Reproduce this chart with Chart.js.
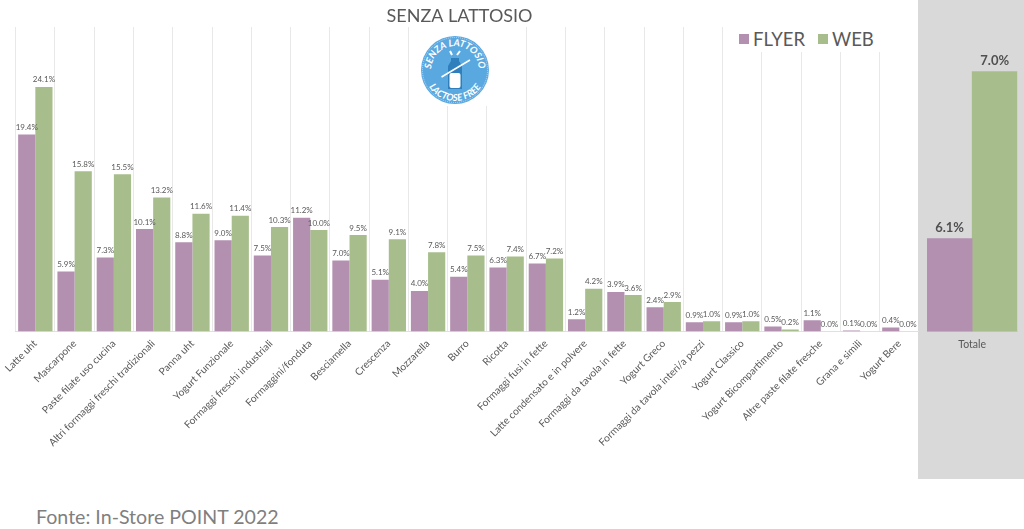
<!DOCTYPE html>
<html>
<head>
<meta charset="utf-8">
<style>
  html, body { margin: 0; padding: 0; background: #fff; }
  body { width: 1024px; height: 529px; position: relative; overflow: hidden; font-family: Lato, sans-serif; }
  #panel { position: absolute; left: 918px; top: 0; width: 106px; height: 479px; background: #d9d9d9; }
  #mainWrap { position: absolute; left: 0; top: 0; width: 919px; height: 480px; }
  #totalWrap { position: absolute; left: 918px; top: 0; width: 106px; height: 480px; }
  #legend { position: absolute; left: 724px; top: 27px; width: 161px; height: 25px; background: #fff; color: #595959; font-size: 18.5px; }
  #legend span { position: absolute; top: 0; line-height: 24px; }
  #legend i { position: absolute; top: 7px; width: 10px; height: 10px; }
  #logo { position: absolute; left: 420px; top: 27px; width: 70px; height: 79px; background: #fff; }
  #fonte { position: absolute; left: 36px; top: 505px; font-size: 19.6px; line-height: 24px; color: #7f7f7f; }
</style>
</head>
<body>
<div id="panel"></div>
<div id="mainWrap"><canvas id="mainChart"></canvas></div>
<div id="totalWrap"><canvas id="totalChart"></canvas></div>
<div id="legend"></div>
<svg id="logo" viewBox="420 27 70 79">
  <defs>
    <path id="arcTop" d="M 431 70 A 24 24 0 0 1 479 70"/>
    <path id="arcBottom" d="M 424 70 A 31 31 0 0 0 486 70"/>
  </defs>
  <circle cx="455" cy="70" r="34" fill="#5aa8e0"/>
  <circle cx="455" cy="70" r="32.5" fill="none" stroke="#fff" stroke-width="0.5" stroke-dasharray="1 1"/>
  <text font-family="Lato" font-size="9.5" font-weight="700" font-style="italic" fill="#fff"><textPath href="#arcTop" startOffset="50%" text-anchor="middle">SENZA LATTOSIO</textPath></text>
  <text font-family="Lato" font-size="9.5" font-weight="700" font-style="italic" fill="#fff"><textPath href="#arcBottom" startOffset="50%" text-anchor="middle">LACTOSE FREE</textPath></text>
  <path d="M451 58h8v3l3 5v23h-14v-23l3-5z" fill="#2f7fbd"/>
  <rect x="449.5" y="73" width="11" height="15" rx="2" fill="#fff"/>
  <path d="M452 55l-2-4M457 55l3-4" stroke="#fff" stroke-width="2"/>
  <line x1="441.5" y1="77" x2="470" y2="60" stroke="#fff" stroke-width="1.6"/>
</svg>
<div id="fonte">Fonte: In-Store POINT 2022</div>

<script src="https://cdn.jsdelivr.net/npm/chart.js@4"></script>
<script>
const categories = ['Latte uht','Mascarpone','Paste filate uso cucina','Altri formaggi freschi tradizionali','Panna uht','Yogurt Funzionale','Formaggi freschi industriali','Formaggini/fonduta','Besciamella','Crescenza','Mozzarella','Burro','Ricotta','Formaggi fusi in fette','Latte condensato e in polvere','Formaggi da tavola in fette','Yogurt Greco','Formaggi da tavola interi/a pezzi','Yogurt Classico','Yogurt Bicompartimento','Altre paste filate fresche','Grana e simili','Yogurt Bere']
const flyer = [19.4,5.9,7.3,10.1,8.8,9.0,7.5,11.2,7.0,5.1,4.0,5.4,6.3,6.7,1.2,3.9,2.4,0.9,0.9,0.5,1.1,0.1,0.4]
const web = [24.1,15.8,15.5,13.2,11.6,11.4,10.3,10.0,9.5,9.1,7.8,7.5,7.4,7.2,4.2,3.6,2.9,1.0,1.0,0.2,0.0,0.0,0.0]
const totalCategories = ['Totale']
const totalFlyer = [6.1]
const totalWeb = [7.0]

const purple = '#b38fb0'
const green = '#a7be8c'
const gray = '#595959'
const baseline = 331.5

// value labels over the bars, no datalabels plugin available
const barLabels = {
  id: 'barLabels',
  afterDatasetsDraw(chart, args, opts) {
    const c = chart.ctx
    c.save()
    c.font = opts.font
    c.fillStyle = opts.color
    c.textAlign = 'center'
    c.textBaseline = 'bottom'
    chart.data.datasets.forEach((ds, i) => {
      chart.getDatasetMeta(i).data.forEach((bar, j) => {
        c.fillText(ds.data[j].toFixed(1) + '%', bar.x, bar.y - opts.gap)
      })
    })
    c.restore()
  }
}

function xFit(height) {
  return scale => {
    scale.height = height
    scale.paddingLeft = 0
    scale.paddingRight = 0
  }
}

new Chart(document.getElementById('mainChart'), {
  type: 'bar',
  data: {
    labels: categories,
    datasets: [
      { label: 'FLYER', data: flyer, backgroundColor: purple },
      { label: 'WEB', data: web, backgroundColor: green }
    ]
  },
  plugins: [barLabels],
  options: {
    responsive: true,
    maintainAspectRatio: false,
    animation: false,
    datasets: { bar: { categoryPercentage: 0.875, barPercentage: 1 } },
    plugins: {
      legend: { display: false },
      tooltip: { enabled: false },
      title: {
        display: true,
        text: 'SENZA LATTOSIO',
        color: gray,
        font: { family: 'Lato', size: 18, weight: 'normal', lineHeight: 1.2 },
        padding: { top: 5.4, bottom: 0 }
      },
      barLabels: { font: '8px Lato', color: gray, gap: 3 }
    },
    scales: {
      x: {
        afterFit: xFit(480 - baseline),
        grid: { color: '#e8e8e8', drawTicks: false },
        border: { color: '#e0e0e0' },
        ticks: {
          color: gray,
          font: { family: 'Lato', size: 10.2 },
          minRotation: 45,
          maxRotation: 45,
          autoSkip: false,
          padding: 6
        }
      },
      // hidden ticks, only keeps the 15.7px gap left of the plot
      y: {
        min: 0,
        max: 30,
        grid: { display: false },
        border: { display: false },
        ticks: { display: false },
        afterFit: scale => { scale.width = 15.7 }
      }
    }
  }
})

new Chart(document.getElementById('totalChart'), {
  type: 'bar',
  data: {
    labels: totalCategories,
    datasets: [
      { label: 'FLYER', data: totalFlyer, backgroundColor: purple },
      { label: 'WEB', data: totalWeb, backgroundColor: green }
    ]
  },
  plugins: [barLabels],
  options: {
    responsive: true,
    maintainAspectRatio: false,
    animation: false,
    layout: { padding: { left: 9, right: 6.7, top: 34.5, bottom: 0 } },
    datasets: { bar: { categoryPercentage: 1, barPercentage: 1 } },
    plugins: {
      legend: { display: false },
      tooltip: { enabled: false },
      title: { display: false },
      barLabels: { font: 'bold 13px Lato', color: '#505050', gap: 4 }
    },
    scales: {
      x: {
        afterFit: xFit(480 - baseline),
        grid: { display: false, drawTicks: false },
        border: { color: '#cfcfcf' },
        ticks: { color: gray, font: { family: 'Lato', size: 10.5 }, maxRotation: 0, padding: 7 }
      },
      y: { display: false, min: 5.6, max: 7.2 }
    }
  }
})

// legend built from the same series names
const legendBox = document.getElementById('legend')
const legendItems = [
  { label: 'FLYER', color: purple, swatch: 15, text: 29 },
  { label: 'WEB', color: green, swatch: 94, text: 108 }
]
legendItems.forEach(item => {
  const sw = document.createElement('i')
  sw.style.left = item.swatch + 'px'
  sw.style.background = item.color
  const tx = document.createElement('span')
  tx.style.left = item.text + 'px'
  tx.textContent = item.label
  legendBox.append(sw, tx)
})
</script>
</body>
</html>
